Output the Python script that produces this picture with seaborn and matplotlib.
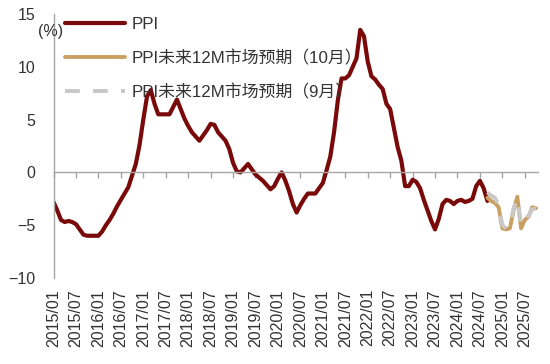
import numpy as np
import pandas as pd
import matplotlib
matplotlib.use('Agg')
import matplotlib.pyplot as plt
import seaborn as sns

# monthly data, starting 2015/01
months = pd.date_range('2015-01-01', periods=130, freq='MS')
tick_labels = list(months.strftime('%Y/%m')[::6])

ppi = [
    -2.8, -3.6, -4.5, -4.7, -4.6, -4.7, -4.9, -5.4, -5.9, -6.0, -6.0, -6.0,
    -6.0, -5.6, -5.0, -4.5, -3.9, -3.2, -2.6, -2.0, -1.4, -0.3, 0.8, 2.6,
    5.0, 7.2, 7.8, 6.5, 5.5, 5.5, 5.5, 5.5, 6.2, 6.9, 6.0, 5.1,
    4.4, 3.8, 3.4, 3.0, 3.5, 4.0, 4.6, 4.5, 3.8, 3.4, 3.0, 2.2,
    0.9, 0.1, 0.0, 0.4, 0.8, 0.3, -0.2, -0.5, -0.8, -1.2, -1.6, -1.3,
    -0.6, 0.0, -0.8, -1.8, -3.0, -3.8, -3.1, -2.5, -2.0, -2.0, -2.0, -1.5,
    -1.0, 0.2, 1.5, 3.8, 6.8, 8.9, 8.9, 9.2, 10.0, 10.8, 13.5, 12.9,
    10.5, 9.1, 8.8, 8.3, 7.9, 6.5, 6.0, 4.2, 2.4, 1.1, -1.3, -1.3,
    -0.7, -0.9, -1.5, -2.6, -3.6, -4.6, -5.4, -4.4, -3.0, -2.6, -2.7, -3.0,
    -2.7, -2.6, -2.8, -2.7, -2.5, -1.3, -0.8, -1.5, -2.7,
]
exp_oct = [-2.4, -2.7, -2.9, -3.3, -5.3, -5.4, -5.3, -3.6, -2.3, -5.3, -4.5, -4.2, -3.3, -3.4]
exp_sep = [-1.9, -2.2, -2.4, -3.1, -5.0, -5.3, -5.1, -3.4, -2.5, -5.0, -4.4, -4.1, -3.5, -3.4]

ppi_df = pd.DataFrame({'m': np.arange(len(ppi)), 'v': ppi})
start = len(ppi) - 1
oct_df = pd.DataFrame({'m': np.arange(start, start + len(exp_oct)), 'v': exp_oct})
sep_df = pd.DataFrame({'m': np.arange(start, start + len(exp_sep)), 'v': exp_sep})

sns.set_style('white')
plt.rcParams['font.family'] = ['Liberation Sans', 'Noto Sans CJK SC']
text_color = '#333333'
axis_color = '#a6a6a6'

fig = plt.figure(figsize=(5.5, 3.64), dpi=100)
ax = fig.add_axes([0.0973, 0.2363, 0.8807, 0.7252])

sns.lineplot(data=ppi_df, x='m', y='v', color='#7a0a0a', lw=3, ax=ax, label='PPI')
sns.lineplot(data=oct_df, x='m', y='v', color='#c9a062', lw=2.8, ax=ax,
             label='PPI未来12M市场预期（10月）')
sns.lineplot(data=sep_df, x='m', y='v', color='#c8c8c8', lw=2.8, ax=ax,
             linestyle=(0, (3.8, 3.4)), label='PPI未来12M市场预期（9月）')

ax.set_xlim(0, 129.5)
ax.set_ylim(-10, 15)
ax.set_yticks([-10, -5, 0, 5, 10, 15])
ax.set_xlabel('')
ax.set_ylabel('')

for s in ['top', 'right']:
    ax.spines[s].set_visible(False)
ax.spines['left'].set_color(axis_color)
ax.spines['left'].set_linewidth(1)
ax.spines['bottom'].set_position(('data', 0))
ax.spines['bottom'].set_color(axis_color)
ax.spines['bottom'].set_linewidth(1)

ticks = np.arange(0, 130, 6)
ax.set_xticks(ticks)
ax.tick_params(axis='x', direction='out', length=4, width=1, color=axis_color,
               labelbottom=False, bottom=True)
ax.tick_params(axis='y', length=0, pad=13, labelsize=11.5, labelcolor=text_color)

sec = ax.secondary_xaxis('bottom')
sec.set_xticks(ticks, tick_labels, rotation=90)
sec.spines['bottom'].set_visible(False)
sec.tick_params(length=0, pad=8, labelsize=11.5, labelcolor=text_color)

fig.text(0.069, 0.913, '(%)', fontsize=11.5, color=text_color, ha='left', va='center')

leg = ax.legend(loc='upper left', bbox_to_anchor=(0.009, 1.014), frameon=False,
                handlelength=3.55, handletextpad=0.4, labelspacing=1.05,
                borderaxespad=0.0, fontsize=12.2)
for t in leg.get_texts():
    t.set_color(text_color)

fig.savefig('out.png', dpi=100)
